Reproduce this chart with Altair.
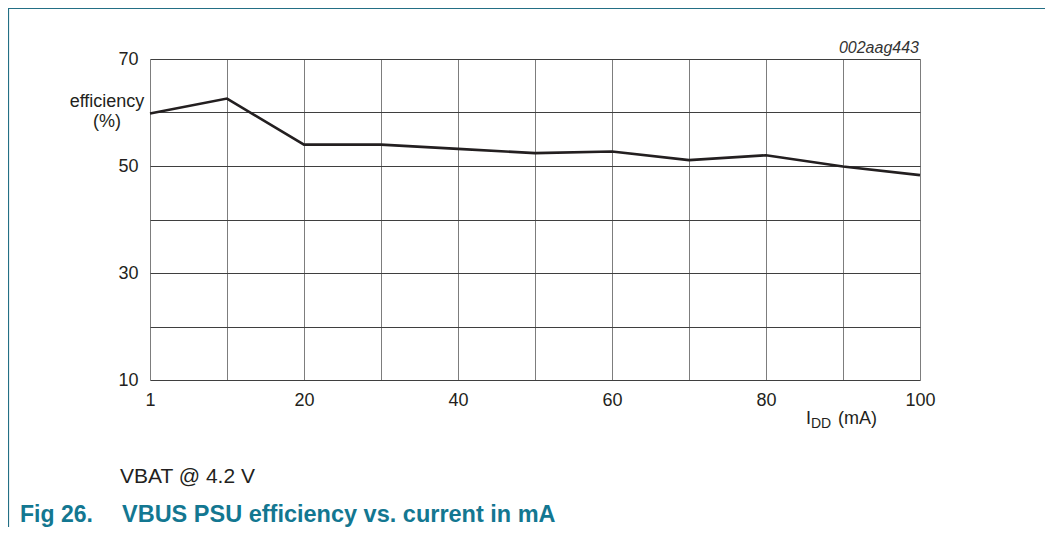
import altair as alt
import pandas as pd

# ---- data ----
current_ma = [0, 10, 20, 30, 40, 50, 60, 70, 80, 90, 100]  # first point sits on the "1" gridline
efficiency_pct = [59.8, 62.6, 54.0, 54.0, 53.2, 52.4, 52.7, 51.1, 52.0, 49.9, 48.3]

x_grid = [0, 10, 20, 30, 40, 50, 60, 70, 80, 90, 100]
x_label_values = [0, 20, 40, 60, 80, 100]
x_label_text = ["1", "20", "40", "60", "80", "100"]

y_grid = [10, 20, 30, 40, 50, 60, 70]
y_label_values = [10, 30, 50, 70]
y_label_text = ["10", "30", "50", "70"]

FONT = "Liberation Sans"
TEAL = "#137791"


def label_expr(values, texts):
    expr = "''"
    for v, t in reversed(list(zip(values, texts))):
        expr = f"datum.value == {v} ? '{t}' : ({expr})"
    return expr


df = pd.DataFrame({"current": current_ma, "eff": efficiency_pct})

x_scale = alt.Scale(domain=[0, 100], nice=False, zero=False)
y_scale = alt.Scale(domain=[10, 70], nice=False, zero=False)

line = alt.Chart(df).mark_line(color="#231f20", strokeWidth=2.6).encode(
    x=alt.X(
        "current:Q",
        scale=x_scale,
        axis=alt.Axis(
            values=x_grid,
            labelExpr=label_expr(x_label_values, x_label_text),
            title=None,
            domain=False,
            ticks=False,
            grid=True,
            gridColor="#7d7d7d",
            gridWidth=1,
            labelFont=FONT,
            labelFontSize=18,
            labelColor="#231f20",
            labelPadding=11,
            labelFlush=False,
            labelOverlap=False,
        ),
    ),
    y=alt.Y(
        "eff:Q",
        scale=y_scale,
        axis=alt.Axis(
            values=y_grid,
            labelExpr=label_expr(y_label_values, y_label_text),
            title=None,
            domain=False,
            ticks=False,
            grid=True,
            gridColor="#3f3f3f",
            gridWidth=1,
            labelFont=FONT,
            labelFontSize=18,
            labelColor="#231f20",
            labelPadding=12,
            labelFlush=False,
            labelOverlap=False,
        ),
    ),
)

one = pd.DataFrame({"k": [0]})


def txt(text, x, y, size=18, align="left", color="#231f20", weight="normal", style="normal"):
    return alt.Chart(one).mark_text(
        text=text, align=align, baseline="alphabetic", font=FONT, fontSize=size,
        color=color, fontWeight=weight, fontStyle=style,
    ).encode(x=alt.value(x), y=alt.value(y))


annotations = [
    txt("002aag443", 769, -6, size=16, align="right", style="italic", color="#333333"),
    txt("efficiency", -43, 48, size=18, align="center"),
    txt("(%)", -43, 68, size=18, align="center"),
    txt("I", 656, 365, size=18),
    txt("DD", 661, 369, size=14),
    txt("(mA)", 688, 365, size=18),
    txt("VBAT @ 4.2 V", -30, 424, size=21),
    txt("Fig 26.", -130, 462.5, size=23, color=TEAL, weight="bold"),
    txt("VBUS PSU efficiency vs. current in mA", -28, 462.5, size=23.5, color=TEAL, weight="bold"),
]

frame_top = alt.Chart(one).mark_rule(color="#236f85", strokeWidth=1.2).encode(
    x=alt.value(-142), x2=alt.value(900), y=alt.value(-50.5)
)
frame_left = alt.Chart(one).mark_rule(color="#236f85", strokeWidth=1.2).encode(
    x=alt.value(-141.5), y=alt.value(-51), y2=alt.value(480)
)

chart = alt.layer(frame_top, frame_left, line, *annotations).properties(
    width=770,
    height=321,
    autosize=alt.AutoSizeParams(type="none"),
    padding={"left": 142, "top": 51, "right": 125, "bottom": 147},
).configure_view(stroke=None)

chart.save("out.html", embed_options={"renderer": "svg", "actions": False})
